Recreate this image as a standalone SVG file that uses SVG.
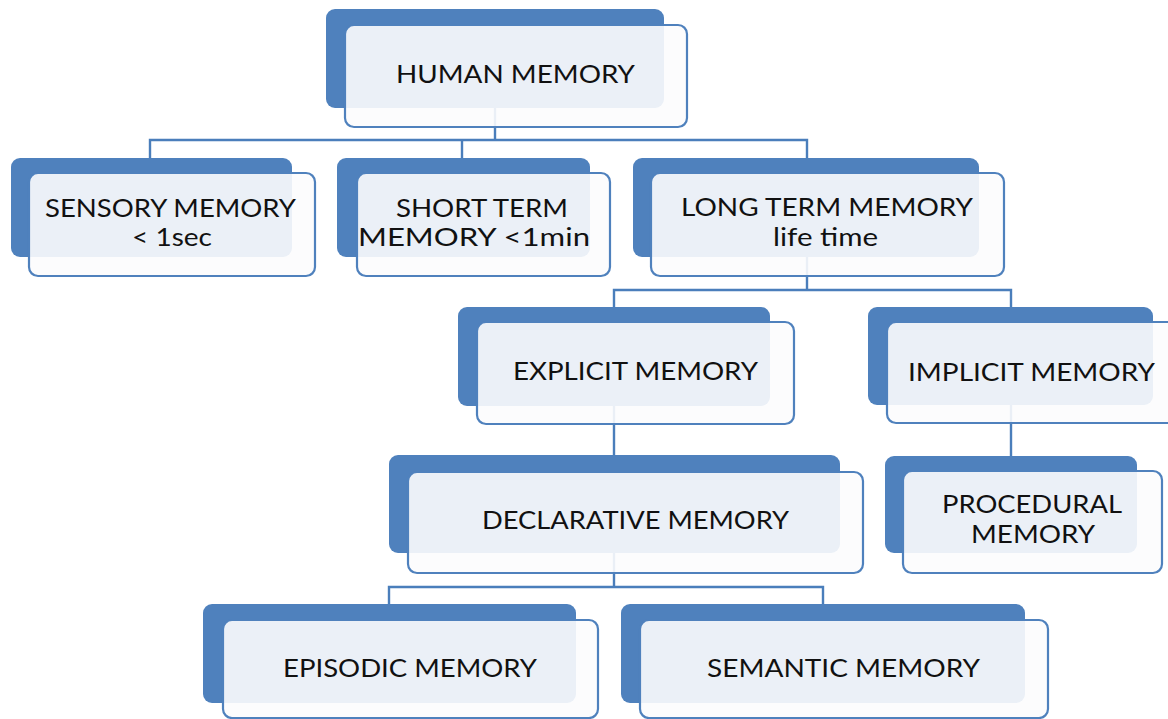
<svg xmlns="http://www.w3.org/2000/svg" width="1168" height="719" viewBox="0 0 1168 719">
  <style>
    .back { fill: #4f81bd; }
    .front { fill: #fcfcfd; fill-opacity: 0.9; stroke: #4f81bd; stroke-width: 2.2; }
    .link { fill: none; stroke: #4a7ebb; stroke-width: 2.4; }
    text { font-family: Lato, "Open Sans", "Liberation Sans", sans-serif; font-size: 25.5px; fill: #111111; text-anchor: middle; }
  </style>
  <rect width="1168" height="719" fill="#ffffff"/>

  <!-- tree connectors -->
  <g id="connectors">
    <path class="link" d="M495 108 V140"/>
    <path class="link" d="M150 158 V140 H807 V158"/>
    <path class="link" d="M462 140 V158"/>
    <path class="link" d="M807 257 V290"/>
    <path class="link" d="M614 307 V290 H1011 V307"/>
    <path class="link" d="M614 406 V455"/>
    <path class="link" d="M1011 405 V456"/>
    <path class="link" d="M614 553 V587"/>
    <path class="link" d="M389 604 V587 H823 V604"/>
  </g>

  <g id="human-memory">
    <rect class="back" x="326" y="9" width="338" height="99" rx="9"/>
    <rect class="front" x="345" y="25" width="342" height="102" rx="9"/>
    <text x="515.5" y="83" textLength="239" lengthAdjust="spacingAndGlyphs">HUMAN MEMORY</text>
  </g>

  <g id="sensory-memory">
    <rect class="back" x="11" y="158" width="281" height="99" rx="9"/>
    <rect class="front" x="29" y="173" width="286" height="103" rx="9"/>
    <text x="170.5" y="217" textLength="251" lengthAdjust="spacingAndGlyphs">SENSORY MEMORY</text>
    <text x="172" y="246" textLength="80" lengthAdjust="spacingAndGlyphs">&lt; 1sec</text>
  </g>

  <g id="short-term-memory">
    <rect class="back" x="337" y="158" width="253" height="99" rx="9"/>
    <rect class="front" x="357" y="173" width="253" height="103" rx="9"/>
    <text x="482" y="217" textLength="172" lengthAdjust="spacingAndGlyphs">SHORT TERM</text>
    <text x="474" y="246" textLength="232" lengthAdjust="spacingAndGlyphs">MEMORY &lt;1min</text>
  </g>

  <g id="long-term-memory">
    <rect class="back" x="633" y="158" width="346" height="99" rx="9"/>
    <rect class="front" x="651" y="173" width="353" height="103" rx="9"/>
    <text x="827" y="216" textLength="292" lengthAdjust="spacingAndGlyphs">LONG TERM MEMORY</text>
    <text x="825.5" y="246" textLength="105" lengthAdjust="spacingAndGlyphs">life time</text>
  </g>

  <g id="explicit-memory">
    <rect class="back" x="458" y="307" width="312" height="99" rx="9"/>
    <rect class="front" x="477" y="322" width="317" height="102" rx="9"/>
    <text x="635.5" y="380" textLength="245" lengthAdjust="spacingAndGlyphs">EXPLICIT MEMORY</text>
  </g>

  <g id="implicit-memory">
    <rect class="back" x="868" y="307" width="285" height="98" rx="9"/>
    <rect class="front" x="887" y="322" width="290" height="101" rx="9"/>
    <text x="1031.5" y="381" textLength="247" lengthAdjust="spacingAndGlyphs">IMPLICIT MEMORY</text>
  </g>

  <g id="declarative-memory">
    <rect class="back" x="389" y="455" width="451" height="98" rx="9"/>
    <rect class="front" x="408" y="472" width="455" height="101" rx="9"/>
    <text x="635.5" y="529" textLength="307" lengthAdjust="spacingAndGlyphs">DECLARATIVE MEMORY</text>
  </g>

  <g id="procedural-memory">
    <rect class="back" x="885" y="456" width="252" height="97" rx="9"/>
    <rect class="front" x="903" y="471" width="259" height="102" rx="9"/>
    <text x="1032" y="513" textLength="180" lengthAdjust="spacingAndGlyphs">PROCEDURAL</text>
    <text x="1033" y="543" textLength="124" lengthAdjust="spacingAndGlyphs">MEMORY</text>
  </g>

  <g id="episodic-memory">
    <rect class="back" x="203" y="604" width="373" height="99" rx="9"/>
    <rect class="front" x="223" y="620" width="375" height="98" rx="9"/>
    <text x="410" y="677" textLength="254" lengthAdjust="spacingAndGlyphs">EPISODIC MEMORY</text>
  </g>

  <g id="semantic-memory">
    <rect class="back" x="621" y="604" width="404" height="99" rx="9"/>
    <rect class="front" x="640" y="620" width="408" height="98" rx="9"/>
    <text x="843.5" y="677" textLength="273" lengthAdjust="spacingAndGlyphs">SEMANTIC MEMORY</text>
  </g>
</svg>
